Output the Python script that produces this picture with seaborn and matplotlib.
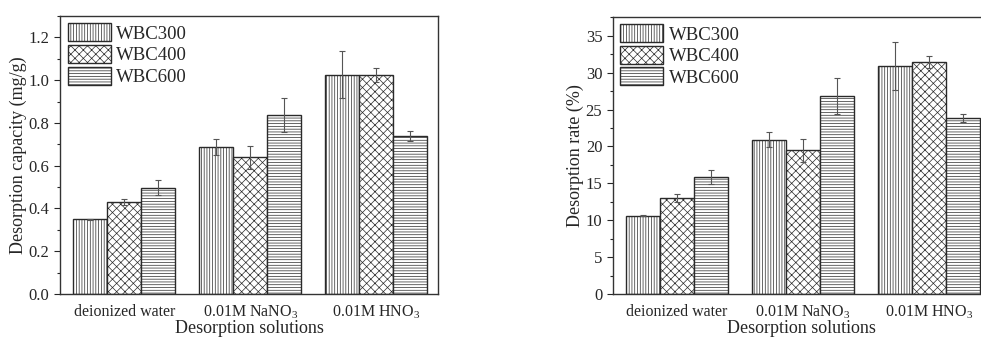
import numpy as np
import pandas as pd
import seaborn as sns
import matplotlib.pyplot as plt
from matplotlib.ticker import MultipleLocator

# categories and series
solutions = ['deionized water', '0.01M NaNO$_3$', '0.01M HNO$_3$']
samples = ['WBC300', 'WBC400', 'WBC600']

# desorption capacity (mg/g), one list per sample
cap_300 = [0.35, 0.687, 1.026]
cap_400 = [0.429, 0.639, 1.026]
cap_600 = [0.496, 0.837, 0.739]
cap_err_300 = [0.002, 0.037, 0.11]
cap_err_400 = [0.013, 0.055, 0.033]
cap_err_600 = [0.035, 0.078, 0.022]

# desorption rate (%)
rate_300 = [10.62, 20.93, 30.92]
rate_400 = [12.97, 19.48, 31.42]
rate_600 = [15.87, 26.85, 23.83]
rate_err_300 = [0.05, 1.04, 3.28]
rate_err_400 = [0.54, 1.6, 0.8]
rate_err_600 = [1.0, 2.5, 0.54]

sns.set_style('ticks')
plt.rcParams['font.family'] = ['Liberation Serif', 'DejaVu Serif']
plt.rcParams['mathtext.fontset'] = 'custom'
plt.rcParams['mathtext.rm'] = 'Liberation Serif'
plt.rcParams['hatch.linewidth'] = 0.5


def long_table(vals, errs):
    rows = []
    for name, v, e in zip(samples, vals, errs):
        for sol, vv, ee in zip(solutions, v, e):
            rows.append({'Solution': sol, 'Sample': name, 'Value': vv, 'Err': ee})
    return pd.DataFrame(rows)


def draw(ax, df, ylabel, ymax, major, minor, fmt):
    sns.barplot(data=df, x='Solution', y='Value', hue='Sample', order=solutions,
                hue_order=samples, palette=['white'] * 3, edgecolor='#2a2a2a',
                linewidth=1.0, width=0.81, errorbar=None, legend=False, ax=ax)
    hatches = ['||||||', 'xxxx', '------']
    for cont, h, name in zip(ax.containers, hatches, samples):
        for bar in cont:
            bar.set_hatch(h)
            if hasattr(bar, 'set_hatchcolor'):
                bar.set_hatchcolor('#555555')
        sub = df[df['Sample'] == name].set_index('Solution').loc[solutions]
        xs = [b.get_x() + b.get_width() / 2 for b in cont]
        ax.errorbar(xs, sub['Value'], yerr=sub['Err'], fmt='none', ecolor='#555555',
                    elinewidth=0.8, capsize=2.5, capthick=0.8, zorder=5)
    ax.set_xlim(-0.51, 2.49)
    ax.set_ylim(0, ymax)
    ax.yaxis.set_major_locator(MultipleLocator(major))
    ax.yaxis.set_minor_locator(MultipleLocator(minor))
    ax.yaxis.set_major_formatter(fmt)
    ax.tick_params(axis='y', which='major', direction='out', length=4, width=0.8, labelsize=12)
    ax.tick_params(axis='y', which='minor', direction='out', length=2, width=0.8)
    ax.tick_params(axis='x', length=0, labelsize=11.5, pad=7)
    ax.set_ylabel(ylabel, fontsize=13, labelpad=1)
    ax.set_xlabel('Desorption solutions', fontsize=13, labelpad=-1)
    for s in ax.spines.values():
        s.set_linewidth(1.0)
        s.set_color('#333333')
    leg = ax.legend([c[0] for c in ax.containers], samples, loc='upper left',
                    frameon=False, fontsize=13.5, handlelength=2.3, handleheight=1.1,
                    labelspacing=0.12, handletextpad=0.3, borderaxespad=0.3,
                    borderpad=0.1)
    return leg


fig = plt.figure(figsize=(9.81, 3.38), dpi=100)
ax1 = fig.add_axes([0.0612, 0.1302, 0.3853, 0.8225])
ax2 = fig.add_axes([0.6246, 0.1302, 0.3853, 0.8204])

df_cap = long_table([cap_300, cap_400, cap_600], [cap_err_300, cap_err_400, cap_err_600])
df_rate = long_table([rate_300, rate_400, rate_600], [rate_err_300, rate_err_400, rate_err_600])

draw(ax1, df_cap, 'Desorption capacity (mg/g)', 1.3, 0.2, 0.1, '{x:.1f}')
draw(ax2, df_rate, 'Desorption rate (%)', 37.6, 5, 2.5, '{x:.0f}')

fig.savefig('out.png', dpi=100)
